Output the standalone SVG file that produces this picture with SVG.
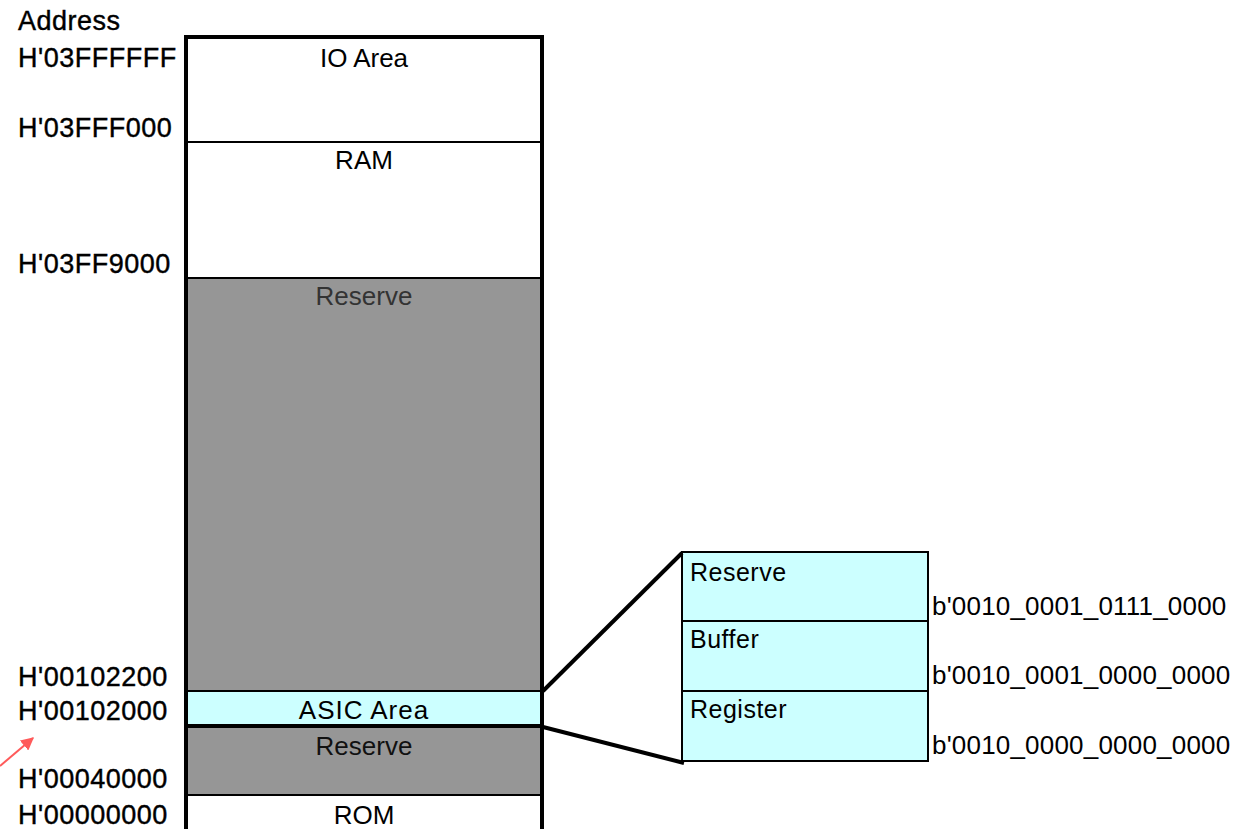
<svg xmlns="http://www.w3.org/2000/svg" width="1233" height="829" viewBox="0 0 1233 829">
<defs>
<style>
text{font-family:"Liberation Sans",Arial,sans-serif;fill:#000}
.addr{font-size:27px;letter-spacing:0.5px;stroke:#000;stroke-width:0.4}
.lbl{font-size:26px;text-anchor:middle}
.sub{font-size:25px;letter-spacing:0.5px}
.bin{font-size:26px;letter-spacing:0.2px}
.grey{fill:#969696}
.cyan{fill:#ccffff}
.div{stroke:#000;stroke-width:2}
.conn{stroke:#000;stroke-width:4;fill:none}
</style>
<marker id="arr" viewBox="0 0 10 10" refX="9" refY="5" markerWidth="13" markerHeight="13" orient="auto" markerUnits="userSpaceOnUse">
<path d="M0,0 L10,5 L0,10 z" fill="#ff5a5a"/>
</marker>
</defs>
<rect width="1233" height="829" fill="#fff"/>
<g id="addresses">
<text class="addr" x="18" y="30">Address</text>
<text class="addr" x="18" y="67">H'03FFFFFF</text>
<text class="addr" x="18" y="137">H'03FFF000</text>
<text class="addr" x="18" y="273">H'03FF9000</text>
<text class="addr" x="18" y="686">H'00102200</text>
<text class="addr" x="18" y="720">H'00102000</text>
<text class="addr" x="18" y="788">H'00040000</text>
<text class="addr" x="18" y="824">H'00000000</text>
</g>
<g id="memory-map">
<g id="io-area"><rect x="188" y="39" width="352" height="103" fill="#fff"/><text class="lbl" x="364" y="67">IO Area</text></g>
<g id="ram"><rect x="188" y="142" width="352" height="136" fill="#fff"/><text class="lbl" x="364" y="169">RAM</text></g>
<g id="reserve-high"><rect class="grey" x="188" y="278" width="352" height="413"/><text class="lbl" x="364" y="305" style="fill:#333">Reserve</text></g>
<g id="asic-area"><rect class="cyan" x="188" y="691" width="352" height="35"/><text class="lbl" x="364" y="719" style="letter-spacing:1px">ASIC Area</text></g>
<g id="reserve-low"><rect class="grey" x="188" y="726" width="352" height="69"/><text class="lbl" x="364" y="755" style="fill:#111">Reserve</text></g>
<g id="rom"><rect x="188" y="795" width="352" height="40" fill="#fff"/><text class="lbl" x="364" y="824">ROM</text></g>
<line class="div" x1="188" y1="142" x2="540" y2="142"/>
<line class="div" x1="188" y1="278" x2="540" y2="278"/>
<line class="div" x1="188" y1="691" x2="540" y2="691"/>
<line x1="188" y1="726" x2="540" y2="726" stroke="#000" stroke-width="4"/>
<line class="div" x1="188" y1="795" x2="540" y2="795"/>
<path d="M186,835 V37 H542 V835" fill="none" stroke="#000" stroke-width="4"/>
</g>
<g id="asic-detail">
<g id="reserve-detail"><rect class="cyan" x="682" y="552" width="246" height="69" stroke="#000" stroke-width="2"/><text class="sub" x="690" y="581">Reserve</text></g>
<g id="buffer"><rect class="cyan" x="682" y="621" width="246" height="70" stroke="#000" stroke-width="2"/><text class="sub" x="690" y="648">Buffer</text></g>
<g id="register"><rect class="cyan" x="682" y="691" width="246" height="70" stroke="#000" stroke-width="2"/><text class="sub" x="690" y="718">Register</text></g>
</g>
<g id="binary-addresses">
<text class="bin" x="932" y="615">b'0010_0001_0111_0000</text>
<text class="bin" x="932" y="684">b'0010_0001_0000_0000</text>
<text class="bin" x="932" y="754">b'0010_0000_0000_0000</text>
</g>
<g id="connectors">
<line class="conn" x1="543" y1="691" x2="682" y2="553"/>
<line class="conn" x1="543" y1="727" x2="684" y2="763"/>
<line x1="0" y1="766" x2="33" y2="738" stroke="#ff5a5a" stroke-width="2" marker-end="url(#arr)"/>
</g>
</svg>
